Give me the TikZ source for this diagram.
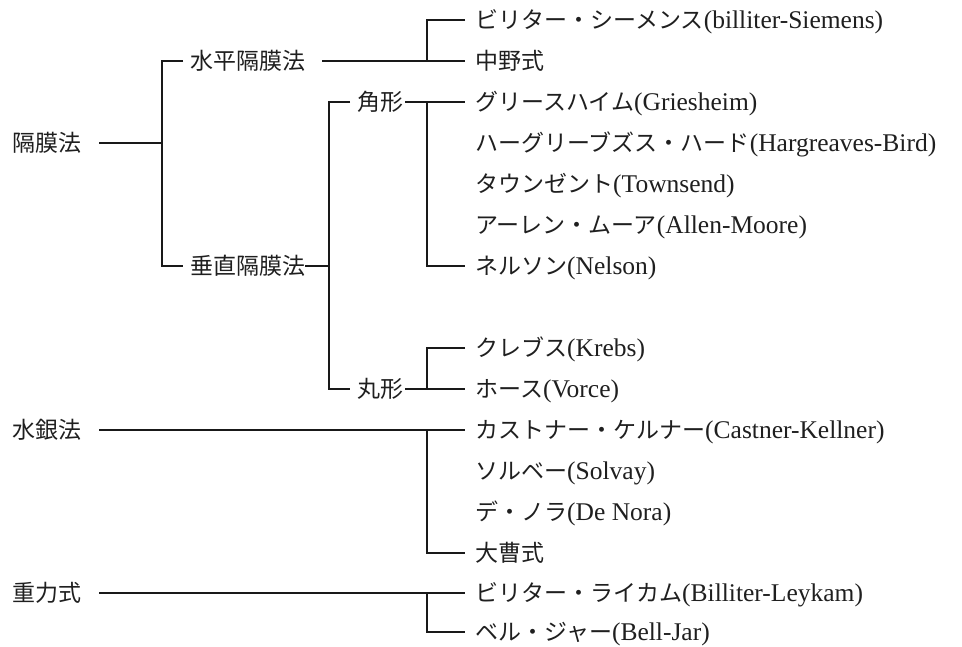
\documentclass[tikz,border=0pt]{standalone}
\usepackage{fontspec}
\setmainfont{Liberation Serif}
\newfontfamily\cjk{Noto Sans CJK JP}
\newcommand\jp[1]{{\cjk\fontsize{23}{23}\selectfont #1}}
\begin{document}
\begin{tikzpicture}[x=1pt,y=-1pt,
  lbl/.style={anchor=west, inner sep=0pt, text height=16pt, text depth=0pt,
    text=black!88, font=\fontsize{25.5}{26}\selectfont},
  ln/.style={line width=1.6pt, draw=black!90}]
\useasboundingbox (0,0) rectangle (962,646);
% level 1
\node[lbl] (a) at (12,143) {\jp{隔膜法}};
\node[lbl] (f) at (12,430) {\jp{水銀法}};
\node[lbl] (g) at (12,593) {\jp{重力式}};
% level 2
\node[lbl] (b) at (190,61) {\jp{水平隔膜法}};
\node[lbl] (c) at (190,266) {\jp{垂直隔膜法}};
% level 3
\node[lbl] (d) at (357,102) {\jp{角形}};
\node[lbl] (e) at (357,389) {\jp{丸形}};
% items
\node[lbl] (i1) at (475,20) {\jp{ビリター・シーメンス}(billiter-Siemens)};
\node[lbl] (i2) at (475,61) {\jp{中野式}};
\node[lbl] (i3) at (475,102) {\jp{グリースハイム}(Griesheim)};
\node[lbl] (i4) at (475,143) {\jp{ハーグリーブズス・ハード}(Hargreaves-Bird)};
\node[lbl] (i5) at (475,184) {\jp{タウンゼント}(Townsend)};
\node[lbl] (i6) at (475,225) {\jp{アーレン・ムーア}(Allen-Moore)};
\node[lbl] (i7) at (475,266) {\jp{ネルソン}(Nelson)};
\node[lbl] (i8) at (475,348) {\jp{クレブス}(Krebs)};
\node[lbl] (i9) at (475,389) {\jp{ホース}(Vorce)};
\node[lbl] (i10) at (475,430) {\jp{カストナー・ケルナー}(Castner-Kellner)};
\node[lbl] (i11) at (475,471) {\jp{ソルベー}(Solvay)};
\node[lbl] (i12) at (475,512) {\jp{デ・ノラ}(De Nora)};
\node[lbl] (i13) at (475,553) {\jp{大曹式}};
\node[lbl] (i14) at (475,593) {\jp{ビリター・ライカム}(Billiter-Leykam)};
\node[lbl] (i15) at (475,632) {\jp{ベル・ジャー}(Bell-Jar)};
% junctions
\coordinate (j1) at (162,143);
\coordinate (m) at (329,266);
\coordinate (k1) at (427,61);
\coordinate (k3) at (427,102);
\coordinate (k9) at (427,389);
\coordinate (k10) at (427,430);
\coordinate (k14) at (427,593);
% 隔膜法
\draw[ln] ([xshift=18pt]a.east) -- (j1);
\draw[ln] ([xshift=-7pt]b.west) -| (j1) |- ([xshift=-7pt]c.west);
% 水平隔膜法
\draw[ln] ([xshift=17pt]b.east) -- ([xshift=-10pt]i2.west);
\draw[ln] ([xshift=-10pt]i1.west) -| (k1);
% 垂直隔膜法
\draw[ln] (c.east) -- (m);
\draw[ln] ([xshift=-7pt]d.west) -| (m) |- ([xshift=-7pt]e.west);
% 角形
\draw[ln] ([xshift=2pt]d.east) -- ([xshift=-10pt]i3.west);
\draw[ln] (k3) |- ([xshift=-10pt]i7.west);
% 丸形
\draw[ln] ([xshift=2pt]e.east) -- ([xshift=-10pt]i9.west);
\draw[ln] ([xshift=-10pt]i8.west) -| (k9);
% 水銀法
\draw[ln] ([xshift=18pt]f.east) -- ([xshift=-10pt]i10.west);
\draw[ln] (k10) |- ([xshift=-10pt]i13.west);
% 重力式
\draw[ln] ([xshift=18pt]g.east) -- ([xshift=-10pt]i14.west);
\draw[ln] (k14) |- ([xshift=-10pt]i15.west);
\end{tikzpicture}
\end{document}
